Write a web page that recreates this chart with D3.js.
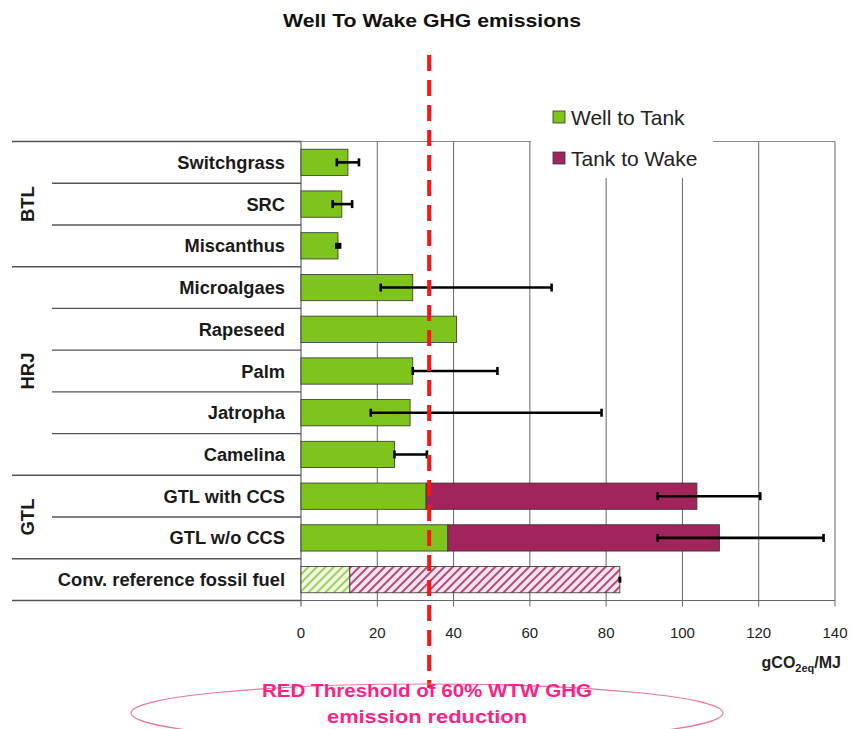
<!DOCTYPE html>
<html><head><meta charset="utf-8">
<script src="https://cdn.jsdelivr.net/npm/d3@7"></script>
<style>body{margin:0;background:#fff}svg{display:block}text{font-family:Arial,"Liberation Sans",sans-serif}</style>
</head><body><svg id="c" width="851" height="729"></svg>
<script>
const categories = ["Switchgrass","SRC","Miscanthus","Microalgaes","Rapeseed","Palm","Jatropha","Camelina","GTL with CCS","GTL w/o CCS","Conv. reference fossil fuel"];
const wellToTank = [12.3,10.7,9.7,29.3,40.8,29.3,28.6,24.5,32.8,38.5,12.8];
const tankToWake = [0,0,0,0,0,0,0,0,71.0,71.2,70.8];
const errLow  = [9.4,8.3,9.3,20.9,null,29.3,18.3,24.5,93.5,93.5,83.6];
const errHigh = [15.2,13.4,10.2,65.7,null,51.5,78.8,33.0,120.4,137.0,83.6];
const groupLabels = ["BTL","HRJ","GTL"];
const groupStart = [0,3,8];
const groupEnd = [2,7,9];
const xTicks = [0,20,40,60,80,100,120,140];
const seriesNames = ["Well to Tank","Tank to Wake"];
const threshold = 33.6;

const svg = d3.select("#c");
const green = "#7fc41c", maroon = "#a2245d";
const x = d3.scaleLinear().domain([0,140]).range([301,835]);
const y = d3.scaleBand().domain(categories).range([141.5,600.5]).paddingInner(0.37).paddingOuter(0.185);
const step = y.step();
const plotTop = 141.5, plotBottom = 600.5;

const defs = svg.append("defs");
function hatch(id, bg, fg){
  const p = defs.append("pattern").attr("id",id).attr("patternUnits","userSpaceOnUse")
    .attr("width",6).attr("height",6).attr("patternTransform","rotate(45)");
  p.append("rect").attr("width",6).attr("height",6).attr("fill",bg);
  p.append("line").attr("x1",1).attr("x2",1).attr("y1",0).attr("y2",6).attr("stroke",fg).attr("stroke-width",1.6);
}
hatch("hg","#eef8dc","#8cc63f");
hatch("hm","#f8e4ec","#a2245d");

// title
svg.append("text").attr("x",432).attr("y",27).attr("text-anchor","middle")
  .attr("font-size",19).attr("font-weight","bold").attr("fill","#111")
  .attr("textLength",298).attr("lengthAdjust","spacingAndGlyphs").text("Well To Wake GHG emissions");

// gridlines
svg.append("g").selectAll("line").data(xTicks).join("line")
  .attr("x1",d=>x(d)).attr("x2",d=>x(d)).attr("y1",plotTop).attr("y2",plotBottom+6)
  .attr("stroke",d=>d===0?"#444":"#666").attr("stroke-width",1);
svg.append("line").attr("x1",x(0)).attr("x2",x(140)).attr("y1",plotTop).attr("y2",plotTop).attr("stroke","#888");
svg.append("line").attr("x1",x(0)).attr("x2",x(140)).attr("y1",plotBottom).attr("y2",plotBottom).attr("stroke","#666");

// tick labels
svg.append("g").selectAll("text").data(xTicks).join("text")
  .attr("x",d=>x(d)).attr("y",638).attr("text-anchor","middle").attr("font-size",15).attr("fill","#222").text(d=>d);
const ul = svg.append("text").attr("x",841).attr("y",668).attr("text-anchor","end").attr("font-size",16).attr("font-weight","bold").attr("fill","#222");
ul.append("tspan").text("gCO");
ul.append("tspan").attr("font-size",11).attr("dy",4).text("2eq");
ul.append("tspan").attr("dy",-4).text("/MJ");

// left structure
const bounds = d3.range(categories.length+1);
const groupBounds = new Set([0, ...groupStart, categories.length-1, categories.length]);
svg.append("g").selectAll("line").data(bounds).join("line")
  .attr("x1",d=>groupBounds.has(d)?12:52).attr("x2",x(0))
  .attr("y1",d=>plotTop+d*step).attr("y2",d=>plotTop+d*step)
  .attr("stroke","#555").attr("stroke-width",1.4);
svg.append("g").selectAll("text").data(categories).join("text")
  .attr("x",285).attr("y",d=>y(d)+y.bandwidth()/2+6.5).attr("text-anchor","end")
  .attr("font-size",18.3).attr("font-weight","bold").attr("fill","#1a1a1a").text(d=>d);
svg.append("g").selectAll("text").data(groupLabels).join("text")
  .attr("transform",(d,i)=>{const cy=plotTop+(groupStart[i]+groupEnd[i]+1)/2*step;return `translate(34,${cy}) rotate(-90)`;})
  .attr("text-anchor","middle").attr("font-size",18.5).attr("font-weight","bold").attr("fill","#1a1a1a").text(d=>d);

// bars
const last = categories.length-1;
const bars = svg.append("g");
bars.selectAll("rect.w").data(categories).join("rect").attr("class","w")
  .attr("x",x(0)).attr("y",d=>y(d)).attr("height",y.bandwidth())
  .attr("width",(d,i)=>x(wellToTank[i])-x(0))
  .attr("fill",(d,i)=>i===last?"url(#hg)":green).attr("stroke","#333").attr("stroke-width",0.8);
bars.selectAll("rect.t").data(categories.filter((d,i)=>tankToWake[i]>0)).join("rect").attr("class","t")
  .attr("x",d=>x(wellToTank[categories.indexOf(d)])).attr("y",d=>y(d)).attr("height",y.bandwidth())
  .attr("width",d=>{const i=categories.indexOf(d);return x(wellToTank[i]+tankToWake[i])-x(wellToTank[i]);})
  .attr("fill",d=>categories.indexOf(d)===last?"url(#hm)":maroon).attr("stroke","#333").attr("stroke-width",0.8);

// error bars
const eb = svg.append("g").attr("stroke","#000").attr("stroke-width",2.6);
categories.forEach((c,i)=>{
  if(errLow[i]==null) return;
  const cy = y(c)+y.bandwidth()/2;
  if(errHigh[i]-errLow[i] < 1.5){
    eb.append("rect").attr("x",x(errLow[i])-1.5).attr("y",cy-3).attr("width",Math.max(3,x(errHigh[i])-x(errLow[i])+3)).attr("height",6).attr("fill","#000").attr("stroke","none");
    return;
  }
  eb.append("line").attr("x1",x(errLow[i])).attr("x2",x(errHigh[i])).attr("y1",cy).attr("y2",cy);
  [errLow[i],errHigh[i]].forEach(v=>eb.append("line").attr("x1",x(v)).attr("x2",x(v)).attr("y1",cy-4).attr("y2",cy+4));
});

// legend
svg.append("rect").attr("x",531).attr("y",92).attr("width",182).attr("height",86).attr("fill","#fff");
const lg = svg.append("g");
[green,maroon].forEach((col,i)=>{
  lg.append("rect").attr("x",553).attr("y",111+i*41).attr("width",12).attr("height",12).attr("fill",col).attr("stroke","#333").attr("stroke-width",0.8);
  lg.append("text").attr("x",571).attr("y",125+i*41).attr("font-size",21).attr("fill","#222").text(seriesNames[i]);
});

// threshold
svg.append("line").attr("x1",x(threshold)).attr("x2",x(threshold)).attr("y1",55).attr("y2",688)
  .attr("stroke","#ff1414").attr("stroke-width",4).attr("stroke-dasharray","16,9");
svg.append("ellipse").attr("cx",427).attr("cy",713).attr("rx",296).attr("ry",29)
  .attr("fill","none").attr("stroke","#e8789e").attr("stroke-width",1.2);
const et = svg.append("g").attr("text-anchor","middle").attr("font-size",18).attr("font-weight","bold").attr("fill","#ff1f86").attr("lengthAdjust","spacingAndGlyphs");
et.append("text").attr("x",427).attr("y",697).attr("textLength",330).attr("lengthAdjust","spacingAndGlyphs").text("RED Threshold of 60% WTW GHG");
et.append("text").attr("x",427).attr("y",723).attr("textLength",200).attr("lengthAdjust","spacingAndGlyphs").text("emission reduction");
</script></body></html>
